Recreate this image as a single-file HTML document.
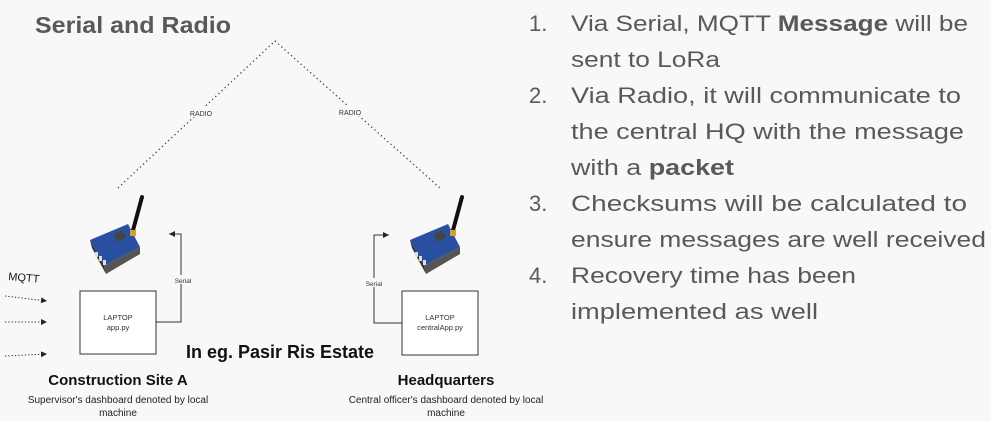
<!DOCTYPE html>
<html><head><meta charset="utf-8"><style>
html,body{margin:0;padding:0;background:#f8f8f8;}
body{width:991px;height:421px;overflow:hidden;position:relative;font-family:"Liberation Sans",sans-serif;}
</style></head><body>
<svg width="991" height="421" style="position:absolute;left:0;top:0" font-family="Liberation Sans, sans-serif">
<defs>
<marker id="a" markerWidth="8" markerHeight="8" refX="6" refY="3" orient="auto"><path d="M0,0 L6,3 L0,6 z" fill="#222"/></marker>
<g id="mod">
<path d="M0,18 L38,2 L50,25 L14,44 z" fill="#2a4fa0"/>
<path d="M14,44 L50,25 L50,32 L16,52 z" fill="#555"/>
<path d="M0,18 L14,44 L16,52 L2,26 z" fill="#333"/>
<rect x="25" y="10" width="10" height="8" fill="#444" transform="rotate(-25 30 14)"/>
<line x1="52" y1="-25" x2="42" y2="12" stroke="#111" stroke-width="4" stroke-linecap="round"/>
<rect x="40" y="8" width="6" height="6" fill="#c9a33a"/>
<g fill="#ddd"><rect x="5" y="30" width="3" height="5"/><rect x="9" y="34" width="3" height="5"/><rect x="13" y="38" width="3" height="5"/></g>
</g>
</defs>
<text x="35" y="33" font-size="23" font-weight="bold" fill="#595959" textLength="196" lengthAdjust="spacingAndGlyphs">Serial and Radio</text>
<polyline points="118,188 275,41 440,188" fill="none" stroke="#444" stroke-width="1.3" stroke-dasharray="1.3,3"/>
<rect x="188" y="107" width="26" height="10" fill="#f8f8f8"/>
<text x="201" y="116" font-size="7" fill="#333" text-anchor="middle">RADIO</text>
<rect x="336" y="106" width="26" height="10" fill="#f8f8f8"/>
<text x="350" y="115" font-size="7" fill="#333" text-anchor="middle">RADIO</text>
<use href="#mod" x="90" y="222"/>
<use href="#mod" x="410" y="222"/>
<rect x="80" y="291" width="76" height="63" fill="#fff" stroke="#333" stroke-width="1"/>
<text x="118" y="320" font-size="7.5" fill="#333" text-anchor="middle">LAPTOP</text>
<text x="118" y="330" font-size="7.5" fill="#333" text-anchor="middle">app.py</text>
<rect x="402" y="291" width="76" height="64" fill="#fff" stroke="#333" stroke-width="1"/>
<text x="440" y="320" font-size="7.5" fill="#333" text-anchor="middle">LAPTOP</text>
<text x="440" y="330" font-size="7.5" fill="#333" text-anchor="middle">centralApp.py</text>
<polyline points="156,322 181,322 181,234 169,234" fill="none" stroke="#333" marker-end="url(#a)"/>
<rect x="172" y="275" width="20" height="9" fill="#f8f8f8"/>
<text x="183" y="283" font-size="6.5" fill="#333" text-anchor="middle">Serial</text>
<polyline points="402,323 374,323 374,235 389,235" fill="none" stroke="#333" marker-end="url(#a)"/>
<rect x="364" y="278" width="20" height="9" fill="#f8f8f8"/>
<text x="374" y="286" font-size="6.5" fill="#333" text-anchor="middle">Serial</text>
<text x="8" y="280" font-size="11" fill="#111" transform="rotate(5 8 280)">MQTT</text>
<g stroke="#333" stroke-dasharray="1.3,2" fill="none" marker-end="url(#a)">
<line x1="5" y1="296" x2="47" y2="301"/>
<line x1="5" y1="322" x2="47" y2="322"/>
<line x1="5" y1="356" x2="47" y2="354"/>
</g>
<text x="280" y="358" font-size="18" font-weight="bold" fill="#111" text-anchor="middle">In eg. Pasir Ris Estate</text>
<text x="118" y="385" font-size="15" font-weight="bold" fill="#111" text-anchor="middle">Construction Site A</text>
<text x="118" y="403" font-size="10" fill="#222" text-anchor="middle">Supervisor's dashboard denoted by local</text>
<text x="118" y="416" font-size="10" fill="#222" text-anchor="middle">machine</text>
<text x="446" y="385" font-size="15" font-weight="bold" fill="#111" text-anchor="middle">Headquarters</text>
<text x="446" y="403" font-size="10" fill="#222" text-anchor="middle">Central officer's dashboard denoted by local</text>
<text x="446" y="416" font-size="10" fill="#222" text-anchor="middle">machine</text>
<g font-size="22" fill="#595959" lengthAdjust="spacingAndGlyphs">
<text x="529" y="31">1.</text>
<text x="571" y="31" textLength="397" lengthAdjust="spacingAndGlyphs">Via Serial, MQTT <tspan font-weight="bold">Message</tspan> will be</text>
<text x="571" y="67" textLength="149" lengthAdjust="spacingAndGlyphs">sent to LoRa</text>
<text x="529" y="103">2.</text>
<text x="571" y="103" textLength="390" lengthAdjust="spacingAndGlyphs">Via Radio, it will communicate to</text>
<text x="571" y="139" textLength="393" lengthAdjust="spacingAndGlyphs">the central HQ with the message</text>
<text x="571" y="175" textLength="163" lengthAdjust="spacingAndGlyphs">with a <tspan font-weight="bold">packet</tspan></text>
<text x="529" y="211">3.</text>
<text x="571" y="211" textLength="396" lengthAdjust="spacingAndGlyphs">Checksums will be calculated to</text>
<text x="571" y="247" textLength="415" lengthAdjust="spacingAndGlyphs">ensure messages are well received</text>
<text x="529" y="283">4.</text>
<text x="571" y="283" textLength="285" lengthAdjust="spacingAndGlyphs">Recovery time has been</text>
<text x="571" y="319" textLength="247" lengthAdjust="spacingAndGlyphs">implemented as well</text>
</g>
</svg>
</body></html>
